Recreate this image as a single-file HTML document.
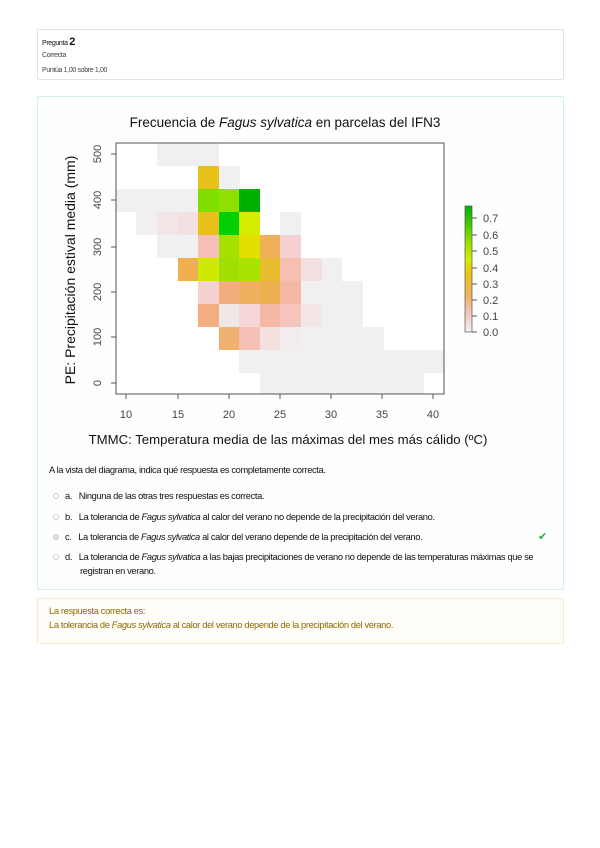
<!DOCTYPE html>
<html><head><meta charset="utf-8"><style>
body{margin:0;width:600px;height:848px;background:#fff;font-family:"Liberation Sans",sans-serif;position:relative;overflow:hidden}
.box{position:absolute;box-sizing:border-box}
.t{position:absolute;font-size:9.3px;color:#111;white-space:nowrap;letter-spacing:-0.35px}
.r{position:absolute;width:6px;height:6px;border:1px solid #ccc;border-radius:50%;box-sizing:border-box}
</style></head><body>
<div class="box" style="left:37px;top:29px;width:527px;height:51px;border:1px solid #e2e2e2;border-radius:2px"></div>
<div class="t" style="left:42px;top:36px;font-size:7px">Pregunta <span style="font-size:11px;font-weight:bold">2</span></div>
<div class="t" style="left:42px;top:52px;font-size:7px;color:#444">Correcta</div>
<div class="t" style="left:42px;top:67px;font-size:7px;color:#444">Puntúa 1,00 sobre 1,00</div>

<div class="box" style="left:37px;top:96px;width:527px;height:494px;border:1px solid #d4eef2;border-radius:2px;background:#fdfefe"></div>
<svg style="position:absolute;left:0;top:0" width="600" height="460">
<text x="285" y="127" font-size="13.5" text-anchor="middle" font-family="Liberation Sans" fill="#111">Frecuencia de <tspan font-style="italic">Fagus sylvatica</tspan> en parcelas del  IFN3</text>
<rect x="116" y="143" width="328" height="251" fill="#fff"/>
<g fill="#f0f0f0">
<rect x="157" y="143" width="62" height="23"/>
<rect x="219" y="166" width="21" height="23"/>
<rect x="116" y="189" width="83" height="23"/>
<rect x="136" y="212" width="21" height="23"/>
<rect x="280" y="212" width="21" height="23"/>
<rect x="157" y="235" width="42" height="23"/>
<rect x="321" y="258" width="21" height="23"/>
<rect x="301" y="281" width="62" height="23"/>
<rect x="321" y="304" width="42" height="23"/>
<rect x="301" y="327" width="83" height="23"/>
<rect x="239" y="350" width="205" height="23"/>
<rect x="260" y="373" width="164" height="21"/>
</g>
<g>
<rect x="198" y="166" width="21" height="23" fill="#e8c21a"/>
<rect x="198" y="189" width="21" height="23" fill="#7fe000"/>
<rect x="219" y="189" width="21" height="23" fill="#8fe000"/>
<rect x="239" y="189" width="21" height="23" fill="#00b000"/>
<rect x="157" y="212" width="21" height="23" fill="#f3e6e6"/>
<rect x="178" y="212" width="21" height="23" fill="#f3e0e0"/>
<rect x="198" y="212" width="21" height="23" fill="#e8c21a"/>
<rect x="219" y="212" width="21" height="23" fill="#00d000"/>
<rect x="239" y="212" width="21" height="23" fill="#d4ec00"/>
<rect x="219" y="235" width="21" height="23" fill="#a6e000"/>
<rect x="198" y="235" width="21" height="23" fill="#f5c0b5"/>
<rect x="239" y="235" width="21" height="23" fill="#e3e000"/>
<rect x="260" y="235" width="21" height="23" fill="#f0b05a"/>
<rect x="280" y="235" width="21" height="23" fill="#f5d0d0"/>
<rect x="178" y="258" width="21" height="23" fill="#f0b050"/>
<rect x="198" y="258" width="21" height="23" fill="#cfea00"/>
<rect x="219" y="258" width="21" height="23" fill="#a0e000"/>
<rect x="239" y="258" width="21" height="23" fill="#a8e400"/>
<rect x="260" y="258" width="21" height="23" fill="#e8be30"/>
<rect x="280" y="258" width="21" height="23" fill="#f5c0b0"/>
<rect x="301" y="258" width="21" height="23" fill="#f2e0e0"/>
<rect x="198" y="281" width="21" height="23" fill="#f5d2d2"/>
<rect x="219" y="281" width="21" height="23" fill="#f2ad7c"/>
<rect x="239" y="281" width="21" height="23" fill="#f0b060"/>
<rect x="260" y="281" width="21" height="23" fill="#edb050"/>
<rect x="280" y="281" width="21" height="23" fill="#f5b8a5"/>
<rect x="198" y="304" width="21" height="23" fill="#f2ad80"/>
<rect x="219" y="304" width="21" height="23" fill="#f0e8e8"/>
<rect x="239" y="304" width="21" height="23" fill="#f5d5d5"/>
<rect x="260" y="304" width="21" height="23" fill="#f5b8a5"/>
<rect x="280" y="304" width="21" height="23" fill="#f5c5bd"/>
<rect x="301" y="304" width="21" height="23" fill="#f2e6e6"/>
<rect x="219" y="327" width="21" height="23" fill="#f0b070"/>
<rect x="239" y="327" width="21" height="23" fill="#f5c0b5"/>
<rect x="260" y="327" width="21" height="23" fill="#f5e0e0"/>
<rect x="280" y="327" width="21" height="23" fill="#f2ecec"/>
</g>
<rect x="116" y="143" width="328" height="251" fill="none" stroke="#555" stroke-width="1"/>
<g stroke="#555" stroke-width="1">
<line x1="126" y1="394" x2="126" y2="399"/><line x1="178" y1="394" x2="178" y2="399"/><line x1="229" y1="394" x2="229" y2="399"/><line x1="280" y1="394" x2="280" y2="399"/><line x1="331" y1="394" x2="331" y2="399"/><line x1="382" y1="394" x2="382" y2="399"/><line x1="433" y1="394" x2="433" y2="399"/>
<line x1="111" y1="383" x2="116" y2="383"/><line x1="111" y1="337" x2="116" y2="337"/><line x1="111" y1="292" x2="116" y2="292"/><line x1="111" y1="247" x2="116" y2="247"/><line x1="111" y1="200" x2="116" y2="200"/><line x1="111" y1="154" x2="116" y2="154"/>
</g>
<g font-size="11" fill="#444" text-anchor="middle">
<text x="126" y="418">10</text><text x="178" y="418">15</text><text x="229" y="418">20</text><text x="280" y="418">25</text><text x="331" y="418">30</text><text x="382" y="418">35</text><text x="433" y="418">40</text>
<text transform="translate(101,383) rotate(-90)">0</text>
<text transform="translate(101,337) rotate(-90)">100</text>
<text transform="translate(101,292) rotate(-90)">200</text>
<text transform="translate(101,247) rotate(-90)">300</text>
<text transform="translate(101,200) rotate(-90)">400</text>
<text transform="translate(101,154) rotate(-90)">500</text>
</g>
<text transform="translate(75,270) rotate(-90)" font-size="14" text-anchor="middle" fill="#111">PE: Precipitación estival media (mm)</text>
<text x="288" y="444" font-size="13.2" text-anchor="middle" fill="#111">TMMC: Temperatura media de las máximas del mes más cálido (ºC)</text>
<defs><linearGradient id="g" x1="0" y1="1" x2="0" y2="0">
<stop offset="0" stop-color="#f2f2f2"/><stop offset="0.14" stop-color="#f5c8c0"/><stop offset="0.3" stop-color="#f0b060"/><stop offset="0.45" stop-color="#e8c21a"/><stop offset="0.58" stop-color="#d4ec00"/><stop offset="0.72" stop-color="#8fe000"/><stop offset="1" stop-color="#00b000"/></linearGradient></defs>
<rect x="465" y="206" width="7" height="126" fill="url(#g)" stroke="#555" stroke-width="0.7"/>
<g stroke="#555"><line x1="472" y1="218" x2="477" y2="218"/><line x1="472" y1="235" x2="477" y2="235"/><line x1="472" y1="251" x2="477" y2="251"/><line x1="472" y1="268" x2="477" y2="268"/><line x1="472" y1="284" x2="477" y2="284"/><line x1="472" y1="300" x2="477" y2="300"/><line x1="472" y1="316" x2="477" y2="316"/><line x1="472" y1="332" x2="477" y2="332"/></g>
<g font-size="11" fill="#444"><text x="483" y="222">0.7</text><text x="483" y="239">0.6</text><text x="483" y="255">0.5</text><text x="483" y="272">0.4</text><text x="483" y="288">0.3</text><text x="483" y="304">0.2</text><text x="483" y="320">0.1</text><text x="483" y="336">0.0</text></g>
</svg>
<div class="t" style="left:49px;top:465px">A la vista del diagrama, indica qué respuesta es completamente correcta.</div>
<div class="r" style="left:53px;top:493px"></div><div class="t" style="left:65px;top:491px">a.&nbsp;&nbsp;&nbsp;Ninguna de las otras tres respuestas es correcta.</div>
<div class="r" style="left:53px;top:514px"></div><div class="t" style="left:65px;top:512px">b.&nbsp;&nbsp;&nbsp;La tolerancia de <i>Fagus sylvatica</i> al calor del verano no depende de la precipitación del verano.</div>
<div class="r" style="left:53px;top:534px;background:#ddd"></div><div class="t" style="left:65px;top:532px">c.&nbsp;&nbsp;&nbsp;La tolerancia de <i>Fagus sylvatica</i> al calor del verano depende de la precipitación del verano.</div>
<div class="t" style="left:538px;top:530px;color:#3a3;font-size:11px">✔</div>
<div class="r" style="left:53px;top:554px"></div><div class="t" style="left:65px;top:552px">d.&nbsp;&nbsp;&nbsp;La tolerancia de <i>Fagus sylvatica</i> a las bajas precipitaciones de verano no depende de las temperaturas máximas que se</div>
<div class="t" style="left:80px;top:566px">registran en verano.</div>
<div class="box" style="left:37px;top:598px;width:527px;height:46px;border:1px solid #f8ebcc;border-radius:2px;background:#fffdf7"></div>
<div class="t" style="left:49px;top:606px;color:#8e6a00">La respuesta correcta es:</div>
<div class="t" style="left:49px;top:620px;color:#8e6a00">La tolerancia de <i>Fagus sylvatica</i> al calor del verano depende de la precipitación del verano.</div>
</body></html>
